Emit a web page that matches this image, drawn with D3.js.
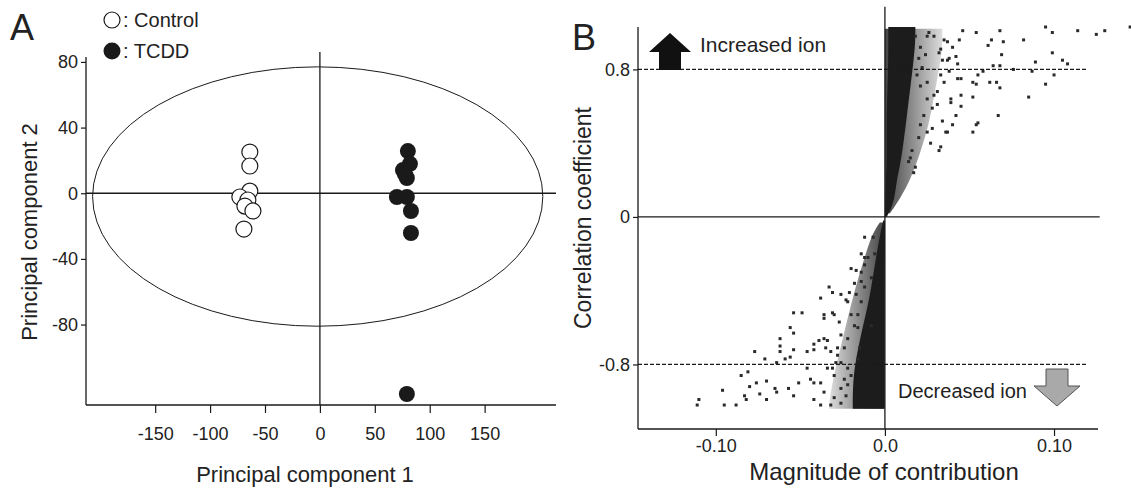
<!DOCTYPE html>
<html>
<head>
<meta charset="utf-8">
<script src="https://cdn.jsdelivr.net/npm/d3@7"></script>
<style>
  body { margin: 0; background: #fff; }
  svg { font-family: "Liberation Sans", Arial, Helvetica, sans-serif; }
  text { fill: #222; }
</style>
</head>
<body>
<svg id="chart" width="1131" height="491"></svg>
<script>
'use strict'

// ---- panel A: PCA scores ----
const controlPC1 = [-63.8, -63.8, -63.8, -72.9, -65.6, -68.3, -61.0, -69.2]
const controlPC2 = [25.1, 16.6, 1.3, -2.3, -4.1, -7.8, -10.8, -21.8]
const tcddPC1 = [80.1, 82.0, 75.6, 79.2, 77.4, 70.1, 79.2, 82.9, 82.9, 79.2]
const tcddPC2 = [25.7, 17.9, 14.1, 9.3, 11.7, -2.3, -2.3, -10.8, -24.2, -122.3]
const ellipseCenter = [-2, -2]
const ellipseRadius = [205, 79]
const pc1Ticks = [-150, -100, -50, 0, 50, 100, 150]
const pc2Ticks = [80, 40, 0, -40, -80]

// ---- panel B: S-plot ----
const corrTicks = [0.8, 0, -0.8]
const corrTickLabels = ['0.8', '0', '-0.8']
const contribTicks = [-0.1, 0, 0.1]
const contribTickLabels = ['-0.10', '0.0', '0.10']
const thresholds = [0.8, -0.8]

// dense core of the S-plot (outline)
const coreUpR = [0.0, 0.05, 0.12, 0.2, 0.28, 0.4, 0.55, 0.7, 0.85, 0.95, 1.03]
const coreUpLo = [0.0, 0.0, 0.0005, 0.0005, 0.001, 0.001, 0.001, 0.0015, 0.002, 0.002, 0.002]
const coreUpHi = [0.001, 0.004, 0.006, 0.007, 0.009, 0.011, 0.013, 0.015, 0.017, 0.018, 0.018]
const coreDnR = [-0.02, -0.1, -0.26, -0.44, -0.63, -0.81, -0.93, -1.04]
const coreDnLo = [-0.001, -0.003, -0.006, -0.009, -0.014, -0.018, -0.019, -0.019]
const coreDnHi = [0.0, 0.0, -0.0003, -0.0005, -0.0005, -0.0005, -0.0005, -0.0005]
// fuzzy fringe around the core (outer edge of the dotted band)
const haloUpR = [0.02, 0.1, 0.2, 0.35, 0.5, 0.65, 0.8, 0.92, 1.02]
const haloUpHi = [0.003, 0.009, 0.015, 0.021, 0.026, 0.029, 0.032, 0.034, 0.034]
const haloDnR = [-0.03, -0.1, -0.25, -0.4, -0.55, -0.7, -0.85, -1.0, -1.04]
const haloDnLo = [-0.003, -0.008, -0.013, -0.018, -0.022, -0.026, -0.030, -0.033, -0.033]

// scattered ions outside the core
const ionsUpX = [0.145, 0.130, 0.125, 0.114, 0.095, 0.099, 0.099, 0.082, 0.105, 0.108, 0.089, 0.087, 0.100, 0.095, 0.085, 0.076,
  0.068, 0.070, 0.069, 0.063, 0.061, 0.054, 0.046, 0.044, 0.068, 0.064, 0.058, 0.055, 0.066, 0.068, 0.062, 0.052, 0.052,
  0.045, 0.043, 0.038, 0.045, 0.039, 0.045, 0.067, 0.037, 0.034, 0.042, 0.032, 0.040, 0.035, 0.029, 0.026,
  0.033, 0.032, 0.017, 0.018, 0.027, 0.036, 0.034, 0.040, 0.042, 0.037, 0.052, 0.054, 0.055, 0.031, 0.028, 0.025, 0.029,
  0.023, 0.021, 0.025, 0.028, 0.020, 0.016, 0.015, 0.014, 0.021, 0.025, 0.019, 0.022, 0.020, 0.024, 0.021, 0.018, 0.025,
  0.037, 0.033, 0.038, 0.043, 0.033, 0.035, 0.031, 0.039, 0.054]
const ionsUpR = [1.03, 1.01, 0.99, 1.01, 1.03, 1.00, 0.89, 0.96, 0.85, 0.83, 0.84, 0.79, 0.77, 0.72, 0.65, 0.80,
  1.01, 0.95, 0.88, 0.96, 0.93, 1.00, 1.01, 0.96, 0.82, 0.82, 0.79, 0.77, 0.73, 0.70, 0.73, 0.73, 0.65,
  0.75, 0.75, 0.79, 0.66, 0.64, 0.60, 0.55, 0.85, 0.85, 0.87, 0.89, 0.92, 0.96, 0.98, 1.00,
  0.38, 0.36, 0.24, 0.27, 0.40, 0.46, 0.52, 0.50, 0.55, 0.46, 0.46, 0.50, 0.51, 0.61, 0.59, 0.64, 0.66,
  0.55, 0.50, 0.46, 0.48, 0.43, 0.36, 0.32, 0.30, 0.71, 0.73, 0.77, 0.81, 0.86, 0.88, 0.92, 0.98, 0.98,
  0.95, 0.91, 0.86, 0.83, 0.77, 0.73, 0.68, 0.62, 0.72]
const ionsDnX = [-0.110, -0.111, -0.096, -0.095, -0.088, -0.085, -0.081, -0.077, -0.071, -0.080, -0.076, -0.074, -0.070,
  -0.083, -0.082, -0.070, -0.065, -0.064, -0.057, -0.054, -0.051, -0.064, -0.062, -0.062, -0.062, -0.059, -0.056,
  -0.054, -0.054, -0.056, -0.054, -0.049, -0.046, -0.042, -0.046, -0.044, -0.042, -0.038, -0.036, -0.042, -0.038,
  -0.042, -0.039, -0.036, -0.035, -0.034, -0.032, -0.028, -0.029, -0.026, -0.036, -0.036, -0.031, -0.030, -0.027,
  -0.038, -0.033, -0.031, -0.026, -0.023, -0.021, -0.022, -0.018, -0.014, -0.012, -0.020, -0.017, -0.014, -0.012,
  -0.010, -0.014, -0.012, -0.012, -0.007, -0.006, -0.008, -0.008, -0.018, -0.022, -0.024, -0.020, -0.022, -0.026,
  -0.030, -0.032, -0.026, -0.023, -0.022, -0.024, -0.030, -0.034, -0.031, -0.028, -0.026, -0.020, -0.016, -0.014,
  -0.017, -0.016, -0.015, -0.016]
const ionsDnR = [-0.99, -1.02, -0.94, -1.02, -1.02, -0.86, -0.84, -0.73, -0.77, -0.92, -0.90, -0.96, -0.89,
  -0.97, -0.99, -0.99, -0.93, -0.95, -0.93, -0.97, -0.90, -0.79, -0.73, -0.70, -0.66, -0.77, -0.76,
  -0.72, -0.63, -0.60, -0.52, -0.52, -0.73, -0.72, -0.82, -0.88, -0.90, -0.90, -0.95, -0.99, -1.02,
  -0.69, -0.67, -0.66, -0.71, -0.67, -0.73, -0.75, -0.79, -0.79, -0.55, -0.53, -0.52, -0.53, -0.57,
  -0.44, -0.38, -0.41, -0.42, -0.45, -0.41, -0.46, -0.36, -0.35, -0.38, -0.28, -0.29, -0.30, -0.26,
  -0.22, -0.20, -0.22, -0.11, -0.11, -0.20, -0.33, -0.59, -0.59, -0.66, -0.71, -0.86, -0.91, -0.93,
  -0.98, -1.02, -1.01, -0.97, -0.82, -0.88, -0.86, -0.82, -0.82, -0.71, -0.64, -0.53, -0.53, -0.46,
  -0.42, -0.60, -0.71, -0.77]

const svg = d3.select('#chart')
const ink = '#1a1a1a'

// gradients for the fading fringe
const defs = svg.append('defs')
function fade(id, reverse) {
  const g = defs.append('linearGradient').attr('id', id)
  g.append('stop').attr('offset', '0%').attr('stop-color', '#222').attr('stop-opacity', reverse ? 0.15 : 0.85)
  g.append('stop').attr('offset', '100%').attr('stop-color', '#222').attr('stop-opacity', reverse ? 0.85 : 0.15)
}
fade('fadeUp', false)
fade('fadeDn', true)

// ================= Panel A =================
const xA = d3.scaleLinear().domain([-213, 215]).range([86, 556])
const yA = d3.scaleLinear().domain([-129, 83]).range([405, 57])

const gA = svg.append('g')

gA.append('line').attr('x1', xA(-213)).attr('x2', xA(-213)).attr('y1', yA(83)).attr('y2', yA(-129))
  .attr('stroke', ink).attr('stroke-width', 1.3)
gA.append('line').attr('x1', xA(-213)).attr('x2', xA(215)).attr('y1', yA(-129)).attr('y2', yA(-129))
  .attr('stroke', ink).attr('stroke-width', 1.3)

const axisLeftA = d3.axisLeft(yA).tickValues(pc2Ticks).tickSize(5).tickPadding(3).tickFormat(d => String(d))
gA.append('g').attr('transform', `translate(${xA(-213)},0)`).call(axisLeftA)
  .call(g => g.select('.domain').remove())
const axisBottomA = d3.axisBottom(xA).tickValues(pc1Ticks).tickSize(8).tickPadding(14).tickFormat(d => String(d))
gA.append('g').attr('transform', `translate(0,${yA(-129)})`).call(axisBottomA)
  .call(g => g.select('.domain').remove())

// zero lines
gA.append('line').attr('x1', xA(-213)).attr('x2', xA(215)).attr('y1', yA(0)).attr('y2', yA(0))
  .attr('stroke', ink).attr('stroke-width', 1.3)
gA.append('line').attr('x1', xA(0)).attr('x2', xA(0)).attr('y1', yA(86)).attr('y2', yA(-129))
  .attr('stroke', ink).attr('stroke-width', 1.3)

// Hotelling ellipse
gA.append('ellipse')
  .attr('cx', xA(ellipseCenter[0])).attr('cy', yA(ellipseCenter[1]))
  .attr('rx', xA(ellipseRadius[0]) - xA(0)).attr('ry', yA(0) - yA(ellipseRadius[1]))
  .attr('fill', 'none').attr('stroke', ink).attr('stroke-width', 1)

gA.selectAll('.ctrl').data(controlPC1).enter().append('circle')
  .attr('class', 'ctrl')
  .attr('cx', d => xA(d)).attr('cy', (d, i) => yA(controlPC2[i])).attr('r', 8)
  .attr('fill', '#fff').attr('stroke', ink).attr('stroke-width', 1.2)

gA.selectAll('.tcdd').data(tcddPC1).enter().append('circle')
  .attr('class', 'tcdd')
  .attr('cx', d => xA(d)).attr('cy', (d, i) => yA(tcddPC2[i])).attr('r', 8)
  .attr('fill', ink)

// legend
gA.append('circle').attr('cx', 112).attr('cy', 20).attr('r', 8).attr('fill', '#fff').attr('stroke', ink).attr('stroke-width', 1.2)
gA.append('text').attr('x', 123).attr('y', 27).attr('font-size', 20).text(': Control')
gA.append('circle').attr('cx', 112).attr('cy', 51).attr('r', 8.5).attr('fill', ink)
gA.append('text').attr('x', 123).attr('y', 58).attr('font-size', 20).text(': TCDD')

gA.append('text').attr('x', 10).attr('y', 40).attr('font-size', 36).text('A')
gA.append('text').attr('x', 305).attr('y', 482).attr('font-size', 22).attr('text-anchor', 'middle')
  .text('Principal component 1')
gA.append('text').attr('transform', 'translate(37,232) rotate(-90)').attr('font-size', 22)
  .attr('text-anchor', 'middle').text('Principal component 2')

// ================= Panel B =================
const xB = d3.scaleLinear().domain([-0.146, 0.126]).range([638, 1098])
const yB = d3.scaleLinear().domain([-1.15, 1.03]).range([429, 27])

const gB = svg.append('g')

const area = d3.area().curve(d3.curveBasis)
  .y(d => yB(d.r)).x0(d => xB(d.lo)).x1(d => xB(d.hi))

// fringe first, then the solid core on top
const haloUp = haloUpR.map((r, i) => ({ r, lo: 0, hi: haloUpHi[i] }))
const haloDn = haloDnR.map((r, i) => ({ r, lo: haloDnLo[i], hi: 0 }))
gB.append('path').datum(haloUp).attr('d', area).attr('fill', 'url(#fadeUp)')
gB.append('path').datum(haloDn).attr('d', area).attr('fill', 'url(#fadeDn)')

const coreUp = coreUpR.map((r, i) => ({ r, lo: coreUpLo[i], hi: coreUpHi[i] }))
const coreDn = coreDnR.map((r, i) => ({ r, lo: coreDnLo[i], hi: coreDnHi[i] }))
gB.append('path').datum(coreUp).attr('d', area).attr('fill', '#1c1c1c')
gB.append('path').datum(coreDn).attr('d', area).attr('fill', '#1c1c1c')

const ions = ionsUpX.map((x, i) => ({ x, r: ionsUpR[i] }))
  .concat(ionsDnX.map((x, i) => ({ x, r: ionsDnR[i] })))
gB.selectAll('.ion').data(ions).enter().append('rect')
  .attr('class', 'ion')
  .attr('x', d => xB(d.x) - 1.5).attr('y', d => yB(d.r) - 1.5)
  .attr('width', 3).attr('height', 3).attr('fill', '#2a2a2a')

// thresholds
gB.selectAll('.thr').data(thresholds).enter().append('line')
  .attr('class', 'thr')
  .attr('x1', xB(-0.146)).attr('x2', xB(0.12))
  .attr('y1', d => yB(d)).attr('y2', d => yB(d))
  .attr('stroke', ink).attr('stroke-width', 1.2).attr('stroke-dasharray', '4,2')

// axes
gB.append('line').attr('x1', xB(-0.146)).attr('x2', xB(-0.146)).attr('y1', yB(1.03)).attr('y2', yB(-1.15))
  .attr('stroke', ink).attr('stroke-width', 1.3)
gB.append('line').attr('x1', xB(-0.146)).attr('x2', xB(0.126)).attr('y1', yB(-1.15)).attr('y2', yB(-1.15))
  .attr('stroke', ink).attr('stroke-width', 1.3)
gB.append('line').attr('x1', xB(-0.146)).attr('x2', xB(0.127)).attr('y1', yB(0)).attr('y2', yB(0))
  .attr('stroke', ink).attr('stroke-width', 1.3)
gB.append('line').attr('x1', xB(0)).attr('x2', xB(0)).attr('y1', yB(1.14)).attr('y2', yB(-1.15))
  .attr('stroke', ink).attr('stroke-width', 1.3)

const axisLeftB = d3.axisLeft(yB).tickValues(corrTicks).tickSize(5).tickPadding(3)
  .tickFormat((d, i) => corrTickLabels[i])
gB.append('g').attr('transform', `translate(${xB(-0.146)},0)`).call(axisLeftB)
  .call(g => g.select('.domain').remove())
const axisBottomB = d3.axisBottom(xB).tickValues(contribTicks).tickSize(7).tickPadding(3)
  .tickFormat((d, i) => contribTickLabels[i])
gB.append('g').attr('transform', `translate(0,${yB(-1.15)})`).call(axisBottomB)
  .call(g => g.select('.domain').remove())

// arrows
const upArrow = 'M0,-19 L21,0 L11,0 L11,18 L-11,18 L-11,0 L-21,0 Z'
gB.append('path').attr('d', upArrow).attr('transform', 'translate(670,52)').attr('fill', '#111')
gB.append('text').attr('x', 700).attr('y', 52).attr('font-size', 21).text('Increased ion')

const downArrow = 'M0,20 L23,0 L11,0 L11,-17 L-11,-17 L-11,0 L-23,0 Z'
gB.append('path').attr('d', downArrow).attr('transform', 'translate(1057,386)')
  .attr('fill', '#a9a9a9').attr('stroke', '#555').attr('stroke-width', 1)
gB.append('text').attr('x', 1027).attr('y', 398).attr('font-size', 20).attr('text-anchor', 'end').text('Decreased ion')

gB.append('text').attr('x', 572).attr('y', 50).attr('font-size', 36).text('B')
gB.append('text').attr('x', 884).attr('y', 480).attr('font-size', 24).attr('text-anchor', 'middle')
  .text('Magnitude of contribution')
gB.append('text').attr('transform', 'translate(591,218) rotate(-90)').attr('font-size', 23)
  .attr('text-anchor', 'middle').text('Correlation coefficient')

// shared tick styling
svg.selectAll('.tick text').attr('font-size', 18).attr('fill', '#222')
svg.selectAll('.tick line').attr('stroke', ink).attr('stroke-width', 1.2)
</script>
</body>
</html>
